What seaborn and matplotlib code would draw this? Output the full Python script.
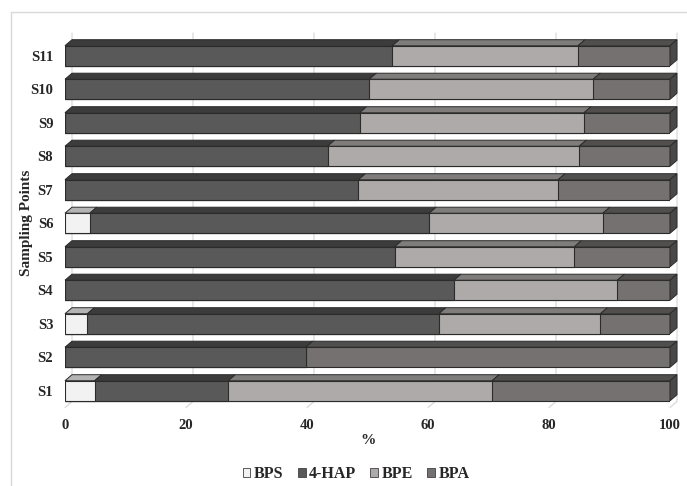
import numpy as np
import pandas as pd
import matplotlib
matplotlib.use("Agg")
import matplotlib.pyplot as plt
from matplotlib.patches import Polygon, Patch
from matplotlib.lines import Line2D
import seaborn as sns

# ---------------- data ----------------
points = ["S1", "S2", "S3", "S4", "S5", "S6", "S7", "S8", "S9", "S10", "S11"]
bps = [4.9, 0.0, 3.7, 0.0, 0.0, 4.1, 0.0, 0.0, 0.0, 0.0, 0.0]
hap = [22.1, 39.8, 58.1, 64.3, 54.5, 56.1, 48.5, 43.4, 48.7, 50.3, 54.1]
bpe = [43.6, 0.0, 26.7, 27.0, 29.7, 28.7, 33.0, 41.6, 37.1, 37.0, 30.7]
bpa = [29.4, 60.2, 11.5, 8.7, 15.8, 11.1, 18.5, 15.0, 14.2, 12.7, 15.2]
series_names = ["BPS", "4-HAP", "BPE", "BPA"]
x_ticks = [0, 20, 40, 60, 80, 100]

front_cols = ["#f2f2f2", "#595959", "#aeaaaa", "#767171"]
top_cols = ["#b4b4b4", "#3c3c3c", "#7f7c7c", "#514e4e"]
side_col = "#4a4747"
edge_col = "#2b2b2b"
grid_col = "#d9d9d9"

df = pd.DataFrame({"Point": points, "BPS": bps, "4-HAP": hap, "BPE": bpe, "BPA": bpa})
cum = df[series_names].cumsum(axis=1)
for s in series_names:
    df["cum_" + s] = cum[s]
order = points[::-1]

sns.set_theme(style="white")
plt.rcParams["font.family"] = ["Liberation Serif", "DejaVu Serif"]
plt.rcParams["font.weight"] = "bold"

W, H = 687, 486
fig = plt.figure(figsize=(W / 100, H / 100), dpi=100)
ax_l, ax_r, ax_t, ax_b = 65, 670, 39, 407.5
ax = fig.add_axes([ax_l / W, 1 - ax_b / H, (ax_r - ax_l) / W, (ax_b - ax_t) / H])

# stacked bars: draw cumulative totals from largest to smallest
for s, c in zip(series_names[::-1], front_cols[::-1]):
    sns.barplot(data=df, x="cum_" + s, y="Point", order=order, orient="h",
                color=c, saturation=1, width=0.6, edgecolor=edge_col,
                linewidth=0.8, ax=ax, zorder=3)

ax.set_xlim(0, 100)
ax.set_ylim(len(points) - 0.5, -0.5)
ax.set_xticks(x_ticks)
ax.set_xticklabels([str(t) for t in x_ticks])
for sp in ax.spines.values():
    sp.set_visible(False)
ax.tick_params(axis="both", length=0, labelsize=10.5)
ax.tick_params(axis="y", pad=8.5)
ax.tick_params(axis="x", pad=8.5)
for lab in ax.get_xticklabels() + ax.get_yticklabels():
    lab.set_fontweight("bold")
ax.set_xlabel("%", fontsize=11, fontweight="bold", labelpad=1)
ax.set_ylabel("Sampling Points", fontsize=11, fontweight="bold")
ax.yaxis.set_label_coords((33 - ax_l) / (ax_r - ax_l), 0.5)
ax.grid(False)
ax.set_facecolor("none")

DX, DY = 7.0, 6.0


def back(pts):
    d = ax.transData.transform(np.asarray(pts, dtype=float))
    d = d + np.array([DX, DY])
    return ax.transData.inverted().transform(d)


# back-wall gridlines and floor
y_top, y_bot = -0.5, len(points) - 0.5
for t in ax.get_xticks():
    b_top = back([[t, y_top]])[0]
    b_bot = back([[t, y_bot]])[0]
    ax.plot([b_top[0], b_bot[0], t], [b_top[1], b_bot[1], y_bot],
            color=grid_col, lw=0.9, zorder=0, clip_on=False)

# 3D faces derived from the drawn bars
conts = ax.containers  # [BPA cum, BPE cum, HAP cum, BPS cum]
n_s = len(series_names)
for si in range(n_s):
    cont = conts[n_s - 1 - si]
    prev = conts[n_s - si] if si > 0 else None
    for bi, rect in enumerate(cont.patches):
        right = rect.get_x() + rect.get_width()
        left = prev.patches[bi].get_x() + prev.patches[bi].get_width() if prev is not None else 0.0
        if right - left <= 1e-9:
            continue
        yt = min(rect.get_y(), rect.get_y() + rect.get_height())
        front = [[left, yt], [right, yt]]
        bk = back(front)
        poly = Polygon([front[0], front[1], bk[1], bk[0]], closed=True,
                       facecolor=top_cols[si], edgecolor=edge_col, lw=0.7,
                       zorder=3, clip_on=False)
        ax.add_patch(poly)
        if si == n_s - 1:
            yb = max(rect.get_y(), rect.get_y() + rect.get_height())
            f2 = [[right, yt], [right, yb]]
            b2 = back(f2)
            side = Polygon([f2[0], f2[1], b2[1], b2[0]], closed=True,
                           facecolor=side_col, edgecolor=edge_col, lw=0.7,
                           zorder=3, clip_on=False)
            ax.add_patch(side)

# legend
handles = [Patch(facecolor=c, edgecolor="#404040", lw=0.6) for c in front_cols]
leg = fig.legend(handles, series_names, loc="center", bbox_to_anchor=(356 / W, 1 - 474 / H),
                 ncol=4, frameon=False, handlelength=0.5, handleheight=0.5,
                 handletextpad=0.2, columnspacing=0.9,
                 prop={"family": "Liberation Serif", "weight": "bold", "size": 11.5})

# chart-area frame
fig.add_artist(Line2D([10.5 / W, 10.5 / W], [0, 1 - 12 / H], transform=fig.transFigure,
                      color=grid_col, lw=1))
fig.add_artist(Line2D([10.5 / W, 1], [1 - 12 / H, 1 - 12 / H], transform=fig.transFigure,
                      color=grid_col, lw=1))

fig.savefig("out.png", dpi=100)
